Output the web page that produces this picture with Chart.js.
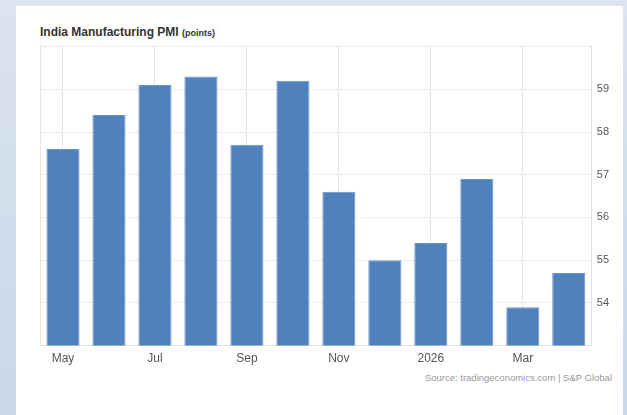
<!DOCTYPE html>
<html>
<head>
<meta charset="utf-8">
<script src="https://cdn.jsdelivr.net/npm/chart.js@4/dist/chart.umd.min.js"></script>
<style>
  html, body { margin: 0; padding: 0; }
  body {
    width: 627px; height: 415px; overflow: hidden; position: relative;
    background: linear-gradient(180deg, #dbe4ef 0%, #c9d7e9 100%);
    font-family: Arial, "Liberation Sans", sans-serif;
  }
  .card { position: absolute; left: 16px; top: 6px; width: 607px; height: 409px; background: #fff; }
  .title { position: absolute; left: 24px; top: 19px; font-size: 12px; font-weight: bold; color: #333; white-space: nowrap; }
  .title small { font-size: 9px; }
  .chart-box { position: absolute; left: 0; top: 29px; width: 607px; height: 337px; }
  .source { position: absolute; right: 11px; top: 366px; font-size: 9.5px; color: #999; }
</style>
</head>
<body>
<div class="card">
  <div class="title">India Manufacturing PMI <small>(points)</small></div>
  <div class="chart-box"><canvas id="pmi"></canvas></div>
  <div class="source">Source: tradingeconomics.com | S&amp;P Global</div>
</div>
<script>
// months May 2025 .. Apr 2026
const months = ['May', 'Jun', 'Jul', 'Aug', 'Sep', 'Oct', 'Nov', 'Dec', '2026', 'Feb', 'Mar', 'Apr'];
const pmi = [57.6, 58.4, 59.1, 59.3, 57.7, 59.2, 56.6, 55.0, 55.4, 56.9, 53.9, 54.7];
const yTicks = [54, 55, 56, 57, 58, 59];

const gridCol = '#e6e6e6';

// thin line down the left edge of the plot
const leftEdge = {
  id: 'leftEdge',
  beforeDatasetsDraw(chart) {
    const { ctx, chartArea: a } = chart;
    ctx.save();
    ctx.strokeStyle = gridCol;
    ctx.lineWidth = 1;
    ctx.beginPath();
    ctx.moveTo(Math.round(a.left) + 0.5, a.top);
    ctx.lineTo(Math.round(a.left) + 0.5, a.bottom);
    ctx.stroke();
    ctx.restore();
  }
};

new Chart(document.getElementById('pmi'), {
  type: 'bar',
  data: {
    labels: months,
    datasets: [{
      data: pmi,
      backgroundColor: '#4f81bd',
      borderColor: '#6a95c8',
      borderWidth: 1,
      barPercentage: 0.8,
      categoryPercentage: 0.9
    }]
  },
  options: {
    responsive: true,
    maintainAspectRatio: false,
    animation: false,
    layout: { padding: { left: 24, top: 6, right: 9, bottom: 0 } },
    plugins: { legend: { display: false }, tooltip: { enabled: false } },
    scales: {
      x: {
        offset: true,
        grid: {
          offset: false,
          drawTicks: false,
          color: ctx => (ctx.index % 2 === 0 ? gridCol : 'rgba(0,0,0,0)')
        },
        border: { display: true, color: '#e0e0e0' },
        ticks: {
          padding: 6,
          color: '#555',
          font: { family: 'Arial', size: 12 },
          maxRotation: 0,
          autoSkip: false,
          callback: (v, i) => (i % 2 === 0 ? months[i] : '')
        }
      },
      y: {
        position: 'right',
        min: 53,
        max: 60,
        grid: {
          drawTicks: false,
          color: ctx => (ctx.tick && ctx.tick.value === 53 ? 'rgba(0,0,0,0)' : gridCol)
        },
        border: { display: true, color: '#e0e0e0', dash: [3, 1] },
        ticks: {
          stepSize: 1,
          padding: 5,
          color: '#555',
          font: { family: 'Arial', size: 11 },
          callback: v => (yTicks.includes(v) ? v : '')
        }
      }
    }
  },
  plugins: [leftEdge]
});
</script>
</body>
</html>
